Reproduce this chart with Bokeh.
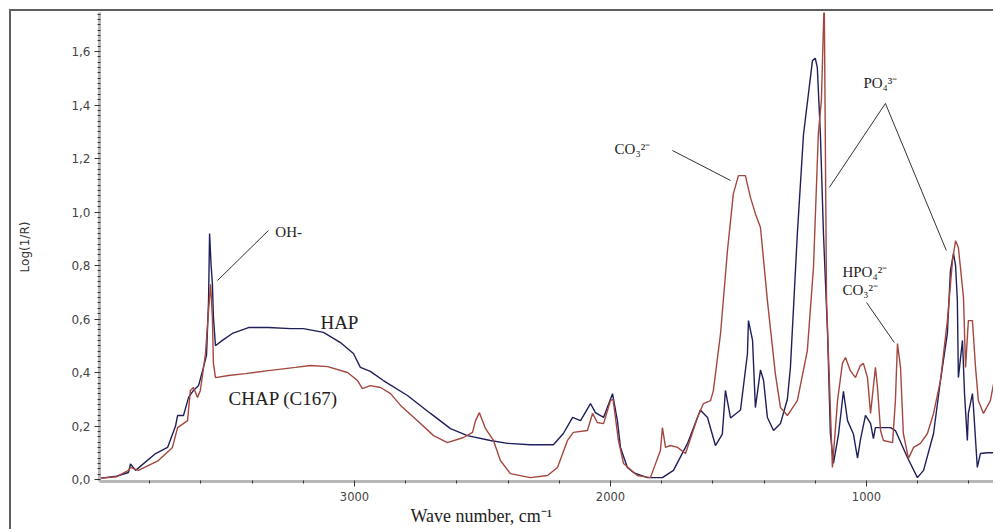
from bokeh.plotting import figure
from bokeh.models import (Range1d, Label, FixedTicker, SingleIntervalTicker,
                          CustomJSTickFormatter, ColumnDataSource, Title)
from bokeh.embed import file_html
from bokeh.resources import INLINE

# ---- data (wavenumber in cm-1, Log(1/R)) ----
hap_wn = [3996, 3930, 3883, 3875, 3855, 3777, 3730, 3699, 3691, 3668, 3648, 3629, 3609, 3590,
          3578, 3570, 3566, 3560, 3555, 3551, 3543, 3516, 3477, 3414, 3336, 3250, 3199, 3121,
          3055, 3004, 2977, 2938, 2887, 2793, 2703, 2625, 2559, 2469, 2402, 2313, 2223, 2184,
          2148, 2117, 2078, 2059, 2027, 1992, 1973, 1961, 1934, 1910, 1856, 1797, 1754, 1699,
          1649, 1621, 1590, 1563, 1551, 1531, 1492, 1465, 1461, 1445, 1434, 1414, 1402, 1387,
          1363, 1336, 1309, 1297, 1270, 1246, 1211, 1200, 1192, 1180, 1168, 1152, 1141, 1129,
          1109, 1090, 1074, 1051, 1035, 1024, 1004, 984, 973, 965, 938, 906, 887, 840, 801,
          777, 738, 711, 684, 672, 660, 652, 645, 641, 625, 617, 606, 602, 586, 582, 567, 555,
          528, 496]
hap_val = [0.004, 0.012, 0.026, 0.058, 0.034, 0.097, 0.12, 0.20, 0.239, 0.239, 0.307, 0.333,
           0.351, 0.419, 0.464, 0.669, 0.92, 0.80, 0.733, 0.606, 0.50, 0.52, 0.546, 0.568,
           0.568, 0.564, 0.564, 0.55, 0.512, 0.471, 0.419, 0.404, 0.37, 0.314, 0.247, 0.19,
           0.164, 0.146, 0.135, 0.13, 0.13, 0.172, 0.232, 0.22, 0.284, 0.25, 0.232, 0.321,
           0.22, 0.12, 0.045, 0.026, 0.007, 0.007, 0.034, 0.135, 0.26, 0.232, 0.127, 0.17,
           0.333, 0.23, 0.26, 0.47, 0.594, 0.52, 0.269, 0.41, 0.37, 0.232, 0.183, 0.209, 0.30,
           0.42, 0.92, 1.29, 1.566, 1.575, 1.54, 1.29, 0.92, 0.546, 0.172, 0.06, 0.17, 0.33,
           0.22, 0.17, 0.08, 0.146, 0.24, 0.21, 0.153, 0.194, 0.194, 0.194, 0.183, 0.082,
           0.007, 0.034, 0.172, 0.37, 0.546, 0.781, 0.845, 0.80, 0.669, 0.381, 0.52, 0.321,
           0.146, 0.247, 0.321, 0.269, 0.045, 0.097, 0.10, 0.10]

chap_wn = [3996, 3930, 3883, 3875, 3844, 3766, 3711, 3691, 3652, 3641, 3629, 3613, 3602, 3582,
           3570, 3562, 3555, 3551, 3543, 3492, 3426, 3336, 3230, 3172, 3105, 3027, 2988, 2969,
           2938, 2898, 2859, 2820, 2754, 2691, 2637, 2574, 2539, 2527, 2512, 2488, 2457, 2430,
           2391, 2313, 2246, 2207, 2168, 2145, 2090, 2070, 2051, 2027, 2000, 1990, 1969, 1949,
           1895, 1844, 1805, 1797, 1785, 1766, 1738, 1707, 1660, 1637, 1609, 1598, 1570, 1543,
           1520, 1500, 1473, 1453, 1434, 1414, 1387, 1356, 1336, 1309, 1270, 1231, 1207, 1188,
           1176, 1165, 1156, 1133, 1113, 1094, 1082, 1063, 1043, 1024, 1012, 996, 984, 965,
           957, 945, 934, 898, 887, 879, 867, 856, 836, 816, 789, 762, 738, 711, 684, 664, 652,
           641, 633, 621, 613, 602, 586, 574, 563, 543, 516, 496]
chap_val = [0.004, 0.01, 0.034, 0.045, 0.034, 0.071, 0.12, 0.194, 0.22, 0.333, 0.344, 0.307,
            0.333, 0.471, 0.632, 0.73, 0.606, 0.434, 0.381, 0.389, 0.396, 0.407, 0.419, 0.426,
            0.422, 0.40, 0.37, 0.34, 0.351, 0.344, 0.321, 0.277, 0.22, 0.164, 0.138, 0.157,
            0.176, 0.22, 0.25, 0.19, 0.146, 0.071, 0.022, 0.007, 0.015, 0.045, 0.146, 0.176,
            0.183, 0.247, 0.213, 0.209, 0.295, 0.30, 0.146, 0.06, 0.015, 0.007, 0.108, 0.194,
            0.12, 0.127, 0.12, 0.097, 0.232, 0.284, 0.295, 0.333, 0.546, 0.856, 1.069, 1.136,
            1.136, 1.054, 0.994, 0.942, 0.669, 0.396, 0.269, 0.239, 0.295, 0.482, 0.793, 1.293,
            1.42, 1.80, 0.67, 0.045, 0.295, 0.434, 0.456, 0.407, 0.381, 0.426, 0.434, 0.381,
            0.247, 0.419, 0.344, 0.183, 0.146, 0.138, 0.295, 0.508, 0.419, 0.172, 0.079, 0.12,
            0.135, 0.172, 0.247, 0.37, 0.594, 0.819, 0.893, 0.867, 0.793, 0.68, 0.419, 0.594,
            0.594, 0.419, 0.295, 0.247, 0.295, 0.396]

x_major_ticks = [3000, 2000, 1000]
x_minor_ticks = [3800, 3600, 3400, 3200, 3000, 2800, 2600, 2400, 2200, 2000,
                 1800, 1600, 1400, 1200, 1000, 800, 600]

# annotation texts: (text, wn, value, font size)
ann_texts = [
    ("OH-", 3309, 0.927, "15px"),
    ("HAP", 3133, 0.587, "19px"),
    ("CHAP (C167)", 3492, 0.303, "19px"),
    ("CO\u2083\u00b2\u207b", 1984, 1.237, "15px"),
    ("PO\u2084\u00b3\u207b", 1012, 1.484, "15px"),
    ("HPO\u2084\u00b2\u207b", 1094, 0.774, "15px"),
    ("CO\u2083\u00b2\u207b", 1094, 0.71, "15px"),
]
# leader lines: (wn0, v0, wn1, v1)
leaders = [
    (3535, 0.744, 3336, 0.931),
    (1758, 1.230, 1531, 1.118),
    (926, 1.406, 1145, 1.092),
    (926, 1.406, 688, 0.856),
    (1000, 0.662, 891, 0.512),
]

p = figure(width=984, height=520, output_backend="svg", toolbar_location=None,
           x_range=Range1d(3996, 496), y_range=Range1d(-0.0075, 1.746),
           min_border_left=88, min_border_right=0, min_border_top=1, min_border_bottom=50)
p.styles = {"margin-top": "9px", "margin-left": "9px",
            "border-top": "2px solid #5f5f5f", "border-left": "2px solid #5f5f5f"}
p.outline_line_color = None
p.xgrid.visible = False
p.ygrid.visible = False
p.background_fill_color = "white"
p.border_fill_color = "white"

p.line(hap_wn, hap_val, line_color="#1f1f5c", line_width=1.4)
p.line(chap_wn, chap_val, line_color="#a3473f", line_width=1.4)

seg = ColumnDataSource(dict(x0=[l[0] for l in leaders], y0=[l[1] for l in leaders],
                            x1=[l[2] for l in leaders], y1=[l[3] for l in leaders]))
p.segment("x0", "y0", "x1", "y1", source=seg, line_color="#333333", line_width=1)

for t, x, y, fs in ann_texts:
    p.add_layout(Label(x=x, y=y, text=t, text_font="Liberation Serif", text_font_size=fs,
                       text_color="#222222", text_baseline="alphabetic"))

x_title = Title(text="Wave number, cm\u207b\u00b9", align="left", offset=311,
                text_font="Liberation Serif", text_font_size="18px",
                text_font_style="normal", text_color="#222222", standoff=0)
p.add_layout(x_title, "below")

fmt = CustomJSTickFormatter(code="return tick.toFixed(1).replace('.', ',');")
p.yaxis.ticker = SingleIntervalTicker(interval=0.2, num_minor_ticks=10)
p.yaxis.formatter = fmt
p.yaxis.axis_label = "Log(1/R)"
p.yaxis.axis_label_text_font = "DejaVu Sans"
p.yaxis.axis_label_text_font_style = "normal"
p.yaxis.axis_label_text_font_size = "12px"
p.yaxis.axis_label_text_color = "#333333"
p.yaxis.axis_label_standoff = 36

p.xaxis.ticker = FixedTicker(ticks=x_major_ticks, minor_ticks=x_minor_ticks)
p.xaxis.formatter = CustomJSTickFormatter(code="return tick.toFixed(0);")

for ax in (p.xaxis, p.yaxis):
    ax.axis_line_color = "#b8b8b8"
    ax.axis_line_width = 3
    ax.major_tick_line_color = "#333333"
    ax.minor_tick_line_color = "#333333"
    ax.major_tick_in = 0
    ax.major_tick_out = 5
    ax.minor_tick_in = 1
    ax.minor_tick_out = 2
    ax.major_label_text_font = "DejaVu Sans"
    ax.major_label_text_font_size = "12px"
    ax.major_label_text_color = "#444444"
p.xaxis.major_label_text_font_size = "11.5px"
p.xaxis.major_label_standoff = 5
p.yaxis.major_label_standoff = 4

open("out.html", "w").write(file_html(p, INLINE))
